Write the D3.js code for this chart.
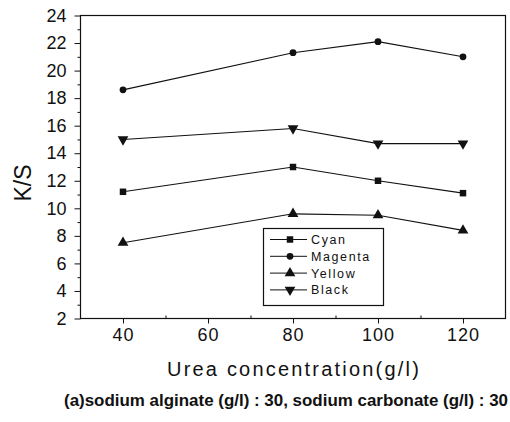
<!DOCTYPE html>
<html><head><meta charset="utf-8">
<script src="https://cdn.jsdelivr.net/npm/d3@7"></script>
<style>body{margin:0;background:#fff}svg{display:block}text{font-family:"Liberation Sans",Arial,sans-serif;fill:#111}</style>
</head><body>
<svg id="c" width="510" height="422"></svg>
<script>
const urea = [40, 80, 100, 120];
const cyan = [11.2, 13.0, 12.0, 11.1];
const magenta = [18.6, 21.3, 22.1, 21.0];
const yellow = [7.5, 9.6, 9.5, 8.4];
const black = [15.0, 15.8, 14.7, 14.7];
const seriesNames = ["Cyan", "Magenta", "Yellow", "Black"];
const xTicks = [40, 60, 80, 100, 120];
const yTicks = [2,4,6,8,10,12,14,16,18,20,22,24];

const series = [
  {name: "Cyan", vals: cyan, sym: d3.symbolSquare, size: 42},
  {name: "Magenta", vals: magenta, sym: d3.symbolCircle, size: 36},
  {name: "Yellow", vals: yellow, sym: d3.symbolTriangle, size: 50},
  {name: "Black", vals: black, sym: d3.symbolTriangle, size: 50, rot: 180}
];

const svg = d3.select("#c");
const x = d3.scaleLinear().domain([30,130]).range([80.5,505.5]);
const y = d3.scaleLinear().domain([2,24]).range([318.5,15.5]);

// frame
svg.append("rect").attr("x",80.5).attr("y",15.5).attr("width",425).attr("height",303)
  .attr("fill","none").attr("stroke","#111").attr("stroke-width",1.2);

// y axis
const ya = svg.append("g").attr("transform","translate(80.5,0)")
  .call(d3.axisLeft(y).tickValues(yTicks).tickSize(6).tickPadding(8).tickFormat(d3.format("d")));
ya.select(".domain").remove();
ya.selectAll("text").style("font-size","18px").attr("fill","#111");
ya.selectAll("line").attr("stroke","#111");
const ym = svg.append("g").attr("transform","translate(80.5,0)")
  .call(d3.axisLeft(y).tickValues(d3.range(3,24,2)).tickSize(3).tickFormat(""));
ym.select(".domain").remove();
ym.selectAll("line").attr("stroke","#111");

// x axis
const xa = svg.append("g").attr("transform","translate(0,318.5)")
  .call(d3.axisBottom(x).tickValues(xTicks).tickSize(5).tickPadding(5).tickFormat(d3.format("d")));
xa.select(".domain").remove();
xa.selectAll("text").style("font-size","18px").style("letter-spacing","1px").attr("fill","#111");
xa.selectAll("line").attr("stroke","#111");
const xm = svg.append("g").attr("transform","translate(0,318.5)")
  .call(d3.axisTop(x).tickValues([50,70,90,110]).tickSize(3).tickFormat(""));
xm.select(".domain").remove();
xm.selectAll("line").attr("stroke","#111");

// lines and markers
const line = d3.line().x((d,i)=>x(urea[i])).y(d=>y(d));
series.forEach(s=>{
  svg.append("path").attr("d", line(s.vals)).attr("fill","none").attr("stroke","#111").attr("stroke-width",1.1);
  svg.selectAll(null).data(s.vals).enter().append("path")
    .attr("d", d3.symbol().type(s.sym).size(s.size))
    .attr("transform",(d,i)=>`translate(${x(urea[i])},${y(d)})${s.rot?" rotate(180)":""}`)
    .attr("fill","#111");
});

// legend
const lg = svg.append("g");
lg.append("rect").attr("x",263.5).attr("y",228.5).attr("width",120).attr("height",77)
  .attr("fill","#fff").attr("stroke","#111").attr("stroke-width",1.2);
series.forEach((s,i)=>{
  const ly = 239.5 + i*16.8;
  lg.append("line").attr("x1",270).attr("x2",307).attr("y1",ly).attr("y2",ly).attr("stroke","#111");
  lg.append("path").attr("d", d3.symbol().type(s.sym).size(s.size))
    .attr("transform",`translate(290,${ly})${s.rot?" rotate(180)":""}`).attr("fill","#111");
  lg.append("text").attr("x",311).attr("y",ly).attr("dy","0.36em")
    .style("font-size","12.5px").style("letter-spacing","1.6px").text(seriesNames[i]);
});

// titles
svg.append("text").attr("transform","translate(31,183) rotate(-90)").attr("text-anchor","middle")
  .style("font-size","23px").text("K/S");
svg.append("text").attr("x",294).attr("y",376).attr("text-anchor","middle")
  .style("font-size","20px").style("letter-spacing","2.2px").text("Urea concentration(g/l)");
svg.append("text").attr("x",64).attr("y",406)
  .attr("textLength",444).attr("lengthAdjust","spacingAndGlyphs")
  .style("font-size","17px").style("font-weight","bold")
  .text("(a)sodium alginate (g/l) : 30, sodium carbonate (g/l) : 30");
</script>
</body></html>
